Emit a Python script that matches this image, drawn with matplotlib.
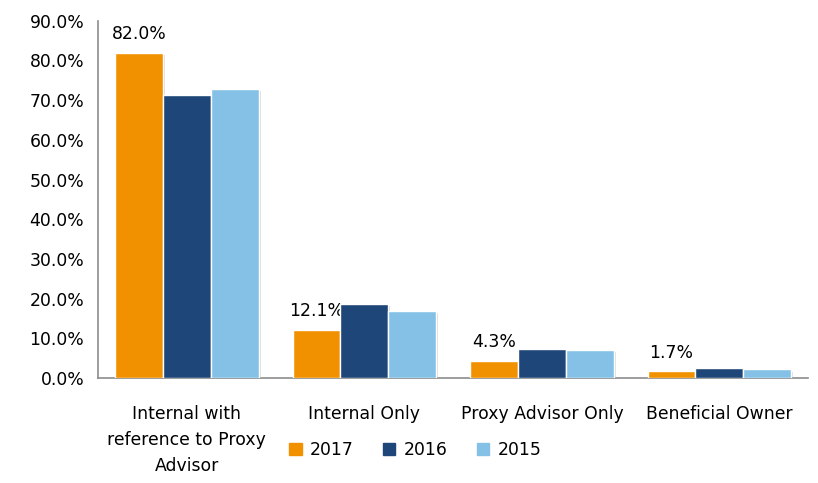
import matplotlib
matplotlib.use("Agg")
import matplotlib.pyplot as plt
import matplotlib.patheffects as pe
import numpy as np

categories = ["Internal with\nreference to Proxy\nAdvisor", "Internal Only",
              "Proxy Advisor Only", "Beneficial Owner"]
years = ["2017", "2016", "2015"]
vals_2017 = [82.0, 12.1, 4.3, 1.7]
vals_2016 = [71.2, 18.8, 7.4, 2.6]
vals_2015 = [72.9, 17.0, 7.0, 2.2]
colors = ["#F29100", "#1F4678", "#85C1E6"]

plt.rcParams['font.family'] = ['DejaVu Sans']
fs = 12.4

fig = plt.figure(figsize=(8.18, 4.83), dpi=100)
ax = fig.add_axes([0.12, 0.217, 0.868, 0.74])

x = np.arange(len(categories))
w = 0.27
shadow = [pe.SimplePatchShadow(offset=(1.5, -1.5), shadow_rgbFace='#999999', alpha=0.35), pe.Normal()]
series = [vals_2017, vals_2016, vals_2015]
for i, (vals, c, yr) in enumerate(zip(series, colors, years)):
    bars = ax.bar(x + (i - 1) * w, vals, w, color=c, edgecolor='white', linewidth=1,
                  label=yr, zorder=3)
    for b in bars:
        b.set_path_effects(shadow)
    if i == 0:
        for xi, v in zip(x, vals):
            ax.text(xi - w, v + 2.5, f"{v:.1f}%", ha='center', va='bottom', fontsize=fs)

ax.set_ylim(0, 90)
ax.set_xlim(-0.5, 3.5)
ax.set_yticks(np.arange(0, 91, 10))
ax.set_yticklabels([f"{t:.1f}%" for t in np.arange(0, 91, 10)], fontsize=fs)
ax.set_xticks(x)
ax.set_xticklabels(categories, fontsize=fs, linespacing=1.6)
ax.tick_params(length=0)
ax.tick_params(axis='y', pad=10)
ax.tick_params(axis='x', pad=19)
for s in ['top', 'right']:
    ax.spines[s].set_visible(False)
for s in ['left', 'bottom']:
    ax.spines[s].set_color('#8c8c8c')
    ax.spines[s].set_linewidth(1.2)

# legend with plain square handles
handles = [plt.Rectangle((0, 0), 1, 1, color=c) for c in colors]
fig.legend(handles, years, loc='center', bbox_to_anchor=(0.508, 0.068), ncol=3,
           frameon=False, fontsize=fs, handlelength=0.7, handleheight=0.7,
           handletextpad=0.5, columnspacing=1.7)

fig.savefig("out.png", dpi=100)
